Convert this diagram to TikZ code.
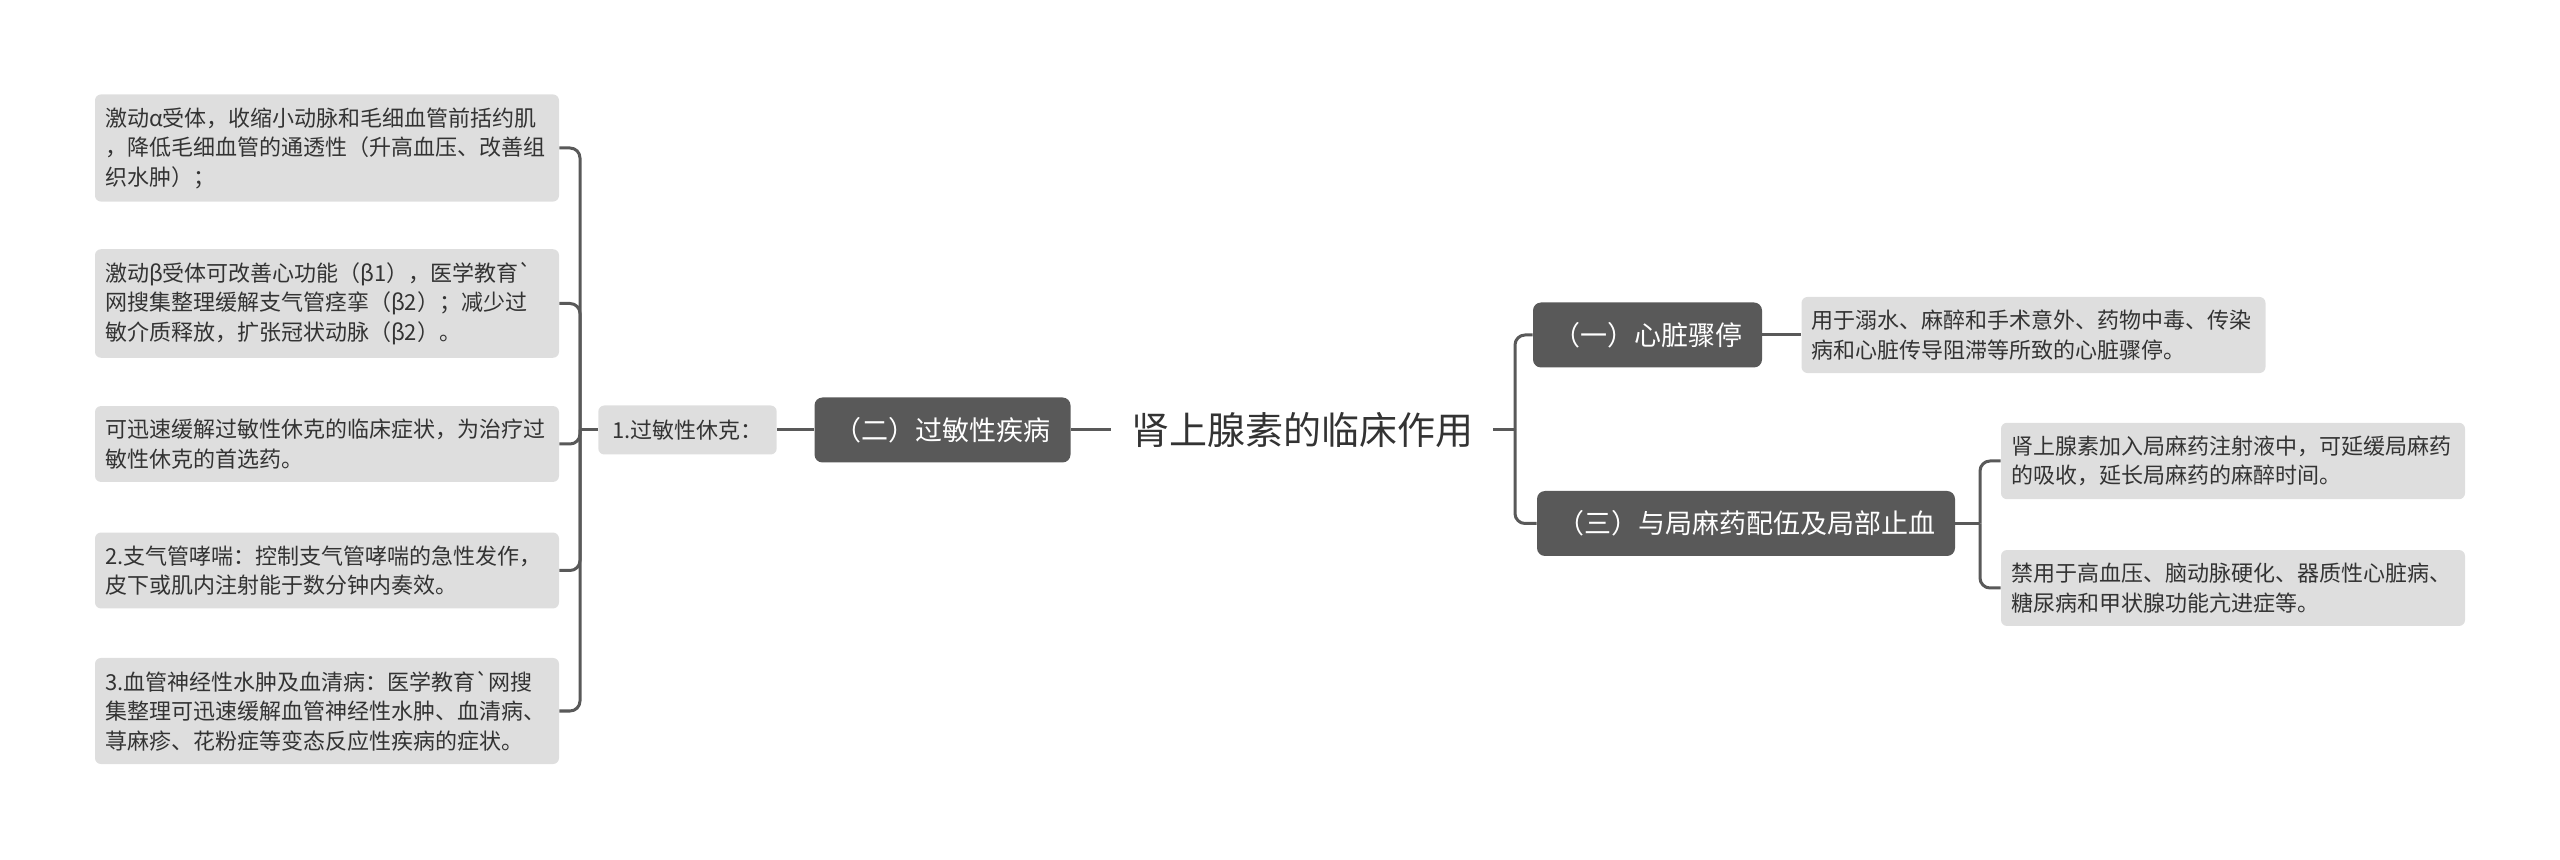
\documentclass[tikz,border=0pt]{standalone}
\usepackage{fontspec}
\newfontfamily\cjk{Noto Sans CJK SC}
\definecolor{linegray}{HTML}{595959}
\definecolor{leafgray}{HTML}{DEDEDE}
\definecolor{textgray}{HTML}{333333}
\tikzset{
  link/.style={draw=linegray, line width=1.5pt, rounded corners=5pt},
  leaf/.style={fill=leafgray, rounded corners=3pt, text=textgray, align=left,
    font=\cjk\fontsize{11pt}{14.75pt}\selectfont, text width=222pt,
    inner xsep=5pt, inner ysep=6.5pt},
  sub/.style={fill=leafgray, rounded corners=3pt, text=textgray,
    font=\cjk\fontsize{11pt}{14pt}\selectfont, inner xsep=7pt, minimum height=24.5pt},
  branch/.style={fill=linegray, rounded corners=4pt, text=white,
    font=\cjk\fontsize{13.5pt}{16pt}\selectfont, inner xsep=10pt, minimum height=32.5pt},
  root/.style={text=textgray, font=\cjk\fontsize{19pt}{22pt}\selectfont, inner xsep=10pt}
}
\begin{document}
\begin{tikzpicture}[x=0.5pt, y=-0.5pt]
  \useasboundingbox (0,0) rectangle (2560,860);

  % Root
  \node[root] (root) at (1302,430) {肾上腺素的临床作用};

  % Left side
  \node[branch] (allergy) at (942.5,430) {（二）过敏性疾病};
  \node[sub] (shock) at (687.5,430) {1.过敏性休克：};
  \coordinate (jl) at (580,430);

  \node[leaf] (l1) at (327,148) {激动α受体，收缩小动脉和毛细血管前括约肌\\，降低毛细血管的通透性（升高血压、改善组\\织水肿）；};
  \node[leaf] (l2) at (327,303.5) {激动β受体可改善心功能（β1），医学教育`\\网搜集整理缓解支气管痉挛（β2）；减少过\\敏介质释放，扩张冠状动脉（β2）。};
  \node[leaf] (l3) at (327,444) {可迅速缓解过敏性休克的临床症状，为治疗过\\敏性休克的首选药。};
  \node[leaf] (l4) at (327,570.5) {2.支气管哮喘：控制支气管哮喘的急性发作，\\皮下或肌内注射能于数分钟内奏效。};
  \node[leaf] (l5) at (327,711) {3.血管神经性水肿及血清病：医学教育`网搜\\集整理可迅速缓解血管神经性水肿、血清病、\\荨麻疹、花粉症等变态反应性疾病的症状。};

  \draw[link] (root.west) -- (allergy.east);
  \draw[link] (allergy.west) -- (shock.east);
  \draw[link] (shock.west) -- (jl);
  \foreach \n in {l1,l2,l3,l4,l5}
    \draw[link] (jl) |- (\n.east);

  % Right side
  \coordinate (jr) at (1515,430);
  \node[branch] (heart) at (1647.5,335) {（一）心脏骤停};
  \node[leaf] (h1) at (2033.5,335) {用于溺水、麻醉和手术意外、药物中毒、传染\\病和心脏传导阻滞等所致的心脏骤停。};
  \node[branch] (local) at (1746,523.5) {（三）与局麻药配伍及局部止血};
  \coordinate (jr2) at (1980,523.5);
  \node[leaf] (r1) at (2233,461) {肾上腺素加入局麻药注射液中，可延缓局麻药\\的吸收，延长局麻药的麻醉时间。};
  \node[leaf] (r2) at (2233,588) {禁用于高血压、脑动脉硬化、器质性心脏病、\\糖尿病和甲状腺功能亢进症等。};

  \draw[link] (root.east) -- (jr);
  \draw[link] (jr) |- (heart.west);
  \draw[link] (jr) |- (local.west);
  \draw[link] (heart.east) -- (h1.west);
  \draw[link] (local.east) -- (jr2);
  \draw[link] (jr2) |- (r1.west);
  \draw[link] (jr2) |- (r2.west);
\end{tikzpicture}
\end{document}
